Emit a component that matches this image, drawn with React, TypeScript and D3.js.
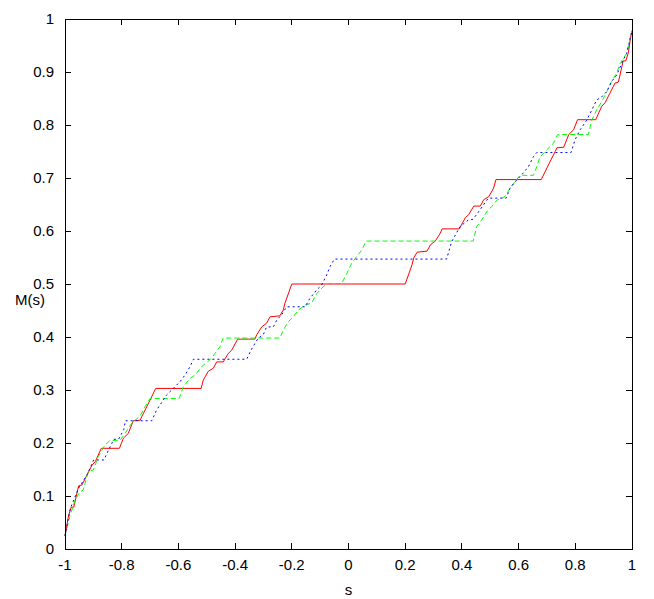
import React from "react";
import * as d3 from "d3";

const xTicks = [-1, -0.8, -0.6, -0.4, -0.2, 0, 0.2, 0.4, 0.6, 0.8, 1];
const yTicks = [0, 0.1, 0.2, 0.3, 0.4, 0.5, 0.6, 0.7, 0.8, 0.9, 1];
const xLabel = "s";
const yLabel = "M(s)";

type P = [number, number];

const redSeries: P[] = [
  [-1.0, 0.025], [-0.987, 0.064], [-0.978, 0.079], [-0.969, 0.079], [-0.952, 0.119],
  [-0.94, 0.121], [-0.922, 0.14], [-0.905, 0.158], [-0.893, 0.165], [-0.872, 0.19],
  [-0.808, 0.19], [-0.794, 0.209], [-0.777, 0.218], [-0.759, 0.242], [-0.735, 0.243],
  [-0.729, 0.25], [-0.712, 0.268], [-0.7, 0.281], [-0.68, 0.303], [-0.52, 0.303],
  [-0.512, 0.319], [-0.495, 0.335], [-0.477, 0.341], [-0.465, 0.353], [-0.442, 0.353],
  [-0.424, 0.369], [-0.412, 0.375], [-0.391, 0.396], [-0.33, 0.396], [-0.324, 0.404],
  [-0.306, 0.419], [-0.289, 0.426], [-0.277, 0.438], [-0.242, 0.44], [-0.23, 0.451],
  [-0.224, 0.464], [-0.2, 0.5], [0.2, 0.5], [0.224, 0.536], [0.23, 0.549],
  [0.242, 0.56], [0.277, 0.562], [0.289, 0.574], [0.306, 0.581], [0.324, 0.596],
  [0.33, 0.604], [0.391, 0.604], [0.412, 0.625], [0.424, 0.631], [0.442, 0.647],
  [0.465, 0.647], [0.477, 0.659], [0.495, 0.665], [0.512, 0.681], [0.52, 0.697],
  [0.68, 0.697], [0.7, 0.719], [0.712, 0.732], [0.729, 0.75], [0.735, 0.757],
  [0.759, 0.758], [0.777, 0.782], [0.794, 0.791], [0.808, 0.81], [0.872, 0.81],
  [0.893, 0.835], [0.905, 0.842], [0.922, 0.86], [0.94, 0.879], [0.952, 0.881],
  [0.969, 0.921], [0.978, 0.921], [0.987, 0.936], [0.995, 0.965], [1.0, 0.978],
];

const greenSeries: P[] = [
  [-1.0, 0.025], [-0.983, 0.061], [-0.965, 0.092], [-0.947, 0.108], [-0.936, 0.111],
  [-0.918, 0.146], [-0.9, 0.149], [-0.883, 0.174], [-0.859, 0.196], [-0.841, 0.205],
  [-0.806, 0.205], [-0.788, 0.218], [-0.765, 0.237], [-0.735, 0.251], [-0.718, 0.268],
  [-0.7, 0.284], [-0.597, 0.284], [-0.583, 0.306], [-0.559, 0.322], [-0.541, 0.328],
  [-0.518, 0.344], [-0.489, 0.357], [-0.471, 0.369], [-0.453, 0.382], [-0.442, 0.398],
  [-0.242, 0.398], [-0.23, 0.413], [-0.212, 0.429], [-0.195, 0.438], [-0.177, 0.451],
  [-0.153, 0.46], [-0.13, 0.464], [-0.112, 0.482], [-0.089, 0.495], [-0.071, 0.501],
  [-0.024, 0.501], [-0.006, 0.52], [0.011, 0.539], [0.029, 0.552], [0.047, 0.564],
  [0.062, 0.581], [0.44, 0.581], [0.452, 0.608], [0.47, 0.621], [0.49, 0.638],
  [0.505, 0.646], [0.523, 0.658], [0.552, 0.665], [0.57, 0.681], [0.587, 0.693],
  [0.605, 0.705], [0.652, 0.705], [0.664, 0.721], [0.675, 0.739], [0.699, 0.753],
  [0.722, 0.765], [0.738, 0.782], [0.846, 0.782], [0.858, 0.809], [0.875, 0.828],
  [0.893, 0.844], [0.911, 0.863], [0.928, 0.882], [0.946, 0.898], [0.958, 0.916],
  [0.981, 0.935], [1.0, 0.978],
];

const blueSeries: P[] = [
  [-1.0, 0.025], [-0.981, 0.077], [-0.952, 0.115], [-0.922, 0.14], [-0.899, 0.168],
  [-0.863, 0.168], [-0.846, 0.187], [-0.828, 0.207], [-0.811, 0.207], [-0.793, 0.225],
  [-0.787, 0.242], [-0.694, 0.242], [-0.677, 0.262], [-0.641, 0.291], [-0.618, 0.303],
  [-0.594, 0.316], [-0.577, 0.328], [-0.559, 0.344], [-0.547, 0.358], [-0.359, 0.358],
  [-0.347, 0.372], [-0.33, 0.388], [-0.318, 0.398], [-0.301, 0.404], [-0.289, 0.419],
  [-0.265, 0.419], [-0.253, 0.432], [-0.236, 0.442], [-0.218, 0.457], [-0.153, 0.457],
  [-0.136, 0.473], [-0.112, 0.489], [-0.095, 0.498], [-0.077, 0.517], [-0.065, 0.533],
  [-0.05, 0.547], [0.346, 0.547], [0.364, 0.58], [0.393, 0.608], [0.423, 0.621],
  [0.439, 0.622], [0.464, 0.64], [0.493, 0.662], [0.556, 0.662], [0.57, 0.681],
  [0.593, 0.696], [0.611, 0.706], [0.634, 0.721], [0.652, 0.74], [0.664, 0.748],
  [0.785, 0.748], [0.799, 0.772], [0.817, 0.791], [0.84, 0.809], [0.858, 0.828],
  [0.875, 0.847], [0.893, 0.853], [0.911, 0.863], [0.928, 0.882], [0.946, 0.894],
  [0.969, 0.923], [0.981, 0.935], [1.0, 0.978],
];

const W = 654;
const H = 599;
const left = 65;
const right = 632;
const top = 19;
const bottom = 549;
const tick = 6;
const font = "'Liberation Sans Narrow', 'Liberation Sans', Arial, sans-serif";

export default function App() {
  const x = d3.scaleLinear().domain([-1, 1]).range([left, right]);
  const y = d3.scaleLinear().domain([0, 1]).range([bottom, top]);
  const line = d3
    .line<P>()
    .x((d) => x(d[0]))
    .y((d) => y(d[1]));
  const fmt = (v: number) => String(+v.toFixed(1));

  return (
    <svg
      width={W}
      height={H}
      style={{ position: "absolute", left: 0, top: 0, background: "#fff" }}
      fontFamily={font}
    >
      <rect x={0} y={0} width={W} height={H} fill="#fff" />
      <path d={line(redSeries) || ""} fill="none" stroke="#ff0000" strokeWidth={1} />
      <path d={line(greenSeries) || ""} fill="none" stroke="#00ff00" strokeWidth={1} strokeDasharray="5,3" />
      <path d={line(blueSeries) || ""} fill="none" stroke="#0000ff" strokeWidth={1} strokeDasharray="2,3" />
      <g stroke="#000" strokeWidth={1} shapeRendering="crispEdges">
        <rect x={left} y={top} width={right - left} height={bottom - top} fill="none" />
        {xTicks.map((t) => (
          <g key={"x" + t}>
            <line x1={x(t)} x2={x(t)} y1={bottom} y2={bottom - tick} />
            <line x1={x(t)} x2={x(t)} y1={top} y2={top + tick} />
          </g>
        ))}
        {yTicks.map((t) => (
          <g key={"y" + t}>
            <line x1={left} x2={left + tick} y1={y(t)} y2={y(t)} />
            <line x1={right} x2={right - tick} y1={y(t)} y2={y(t)} />
          </g>
        ))}
      </g>
      <g fontSize={15} fill="#000">
        {xTicks.map((t) => (
          <text key={"xl" + t} x={x(t)} y={570} textAnchor="middle">
            {fmt(t)}
          </text>
        ))}
        {yTicks.map((t) => (
          <text key={"yl" + t} x={54} y={y(t) + 5} textAnchor="end">
            {fmt(t)}
          </text>
        ))}
        <text x={(left + right) / 2} y={595} textAnchor="middle">
          {xLabel}
        </text>
        <text x={30} y={305} textAnchor="middle">
          {yLabel}
        </text>
      </g>
    </svg>
  );
}
